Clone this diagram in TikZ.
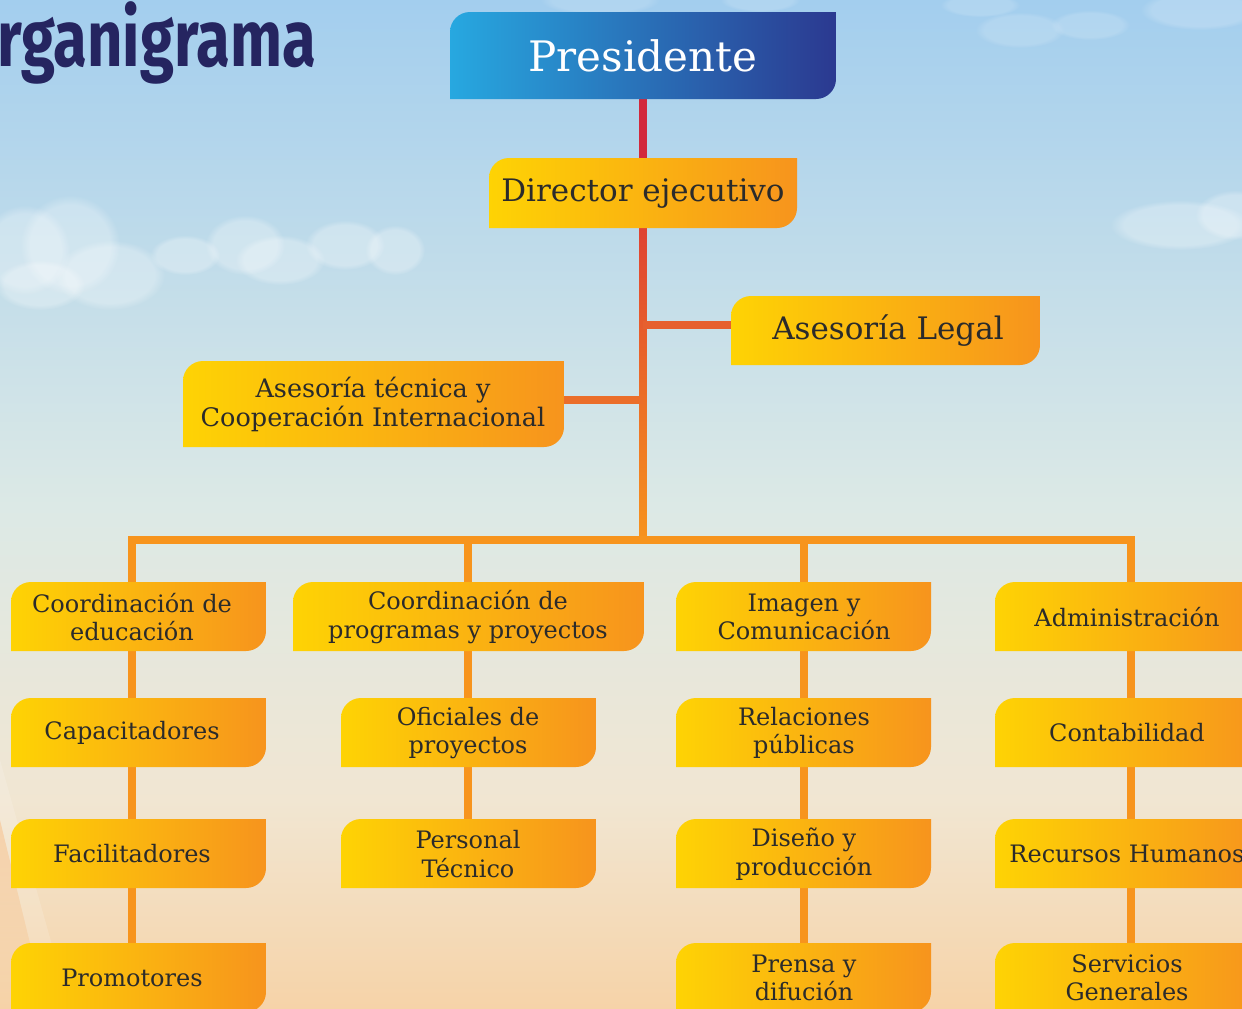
\documentclass[tikz,border=0pt]{standalone}
\usepackage{fontspec}
\setmainfont{DejaVu Serif}
\newfontfamily\titlefont{Fira Sans}[FakeStretch=0.77]
\usetikzlibrary{calc,fadings}
\definecolor{yel}{HTML}{FED304}
\definecolor{org}{HTML}{F7941D}
\definecolor{bla}{HTML}{27A8E0}
\definecolor{blb}{HTML}{2B3990}
\definecolor{navy}{HTML}{252560}
\definecolor{txt}{HTML}{2B2B2B}
\definecolor{redline}{HTML}{D2283C}
\definecolor{trunktop}{HTML}{DC3A35}
\definecolor{legalc}{HTML}{E6602F}
\definecolor{tecc}{HTML}{EB6E2A}
\definecolor{skya}{HTML}{A3CEEE}
\definecolor{skyb}{HTML}{DCE9E6}
\definecolor{skyc}{HTML}{F1E6D2}
\definecolor{skyd}{HTML}{F6D3A8}
\definecolor{beam}{HTML}{FAC08A}
\pgfdeclarelayer{sky}
\pgfdeclarelayer{lines}
\pgfdeclarelayer{boxes}
\pgfsetlayers{sky,lines,boxes,main}
\tikzset{
  boxtext/.style={text=txt, align=center, inner sep=0pt, font=\fontsize{24}{28.5}\selectfont},
  conn/.style={line width=7.5pt, line join=miter},
  cloudpart/.style={fill=white, opacity=0.28, path fading=circle with fuzzy edge 20 percent},
}
\def\bl{yel}\def\br{org}
% #1 node style, #2 name, #3 x1, #4 y1, #5 x2, #6 y2, #7 text x, #8 text
\newcommand\obox[8][]{%
  \begin{pgfonlayer}{boxes}
    \begin{scope}
      \clip[rounded corners=20pt] (#3,#4) rectangle (#5,#6)
        [sharp corners] (#5-20,#4) rectangle (#5,#4+20)
        (#3,#6-20) rectangle (#3+20,#6);
      \shade[left color=\bl, right color=\br] (#3,#4) rectangle (#5,#6);
    \end{scope}
  \end{pgfonlayer}
  \node[boxtext,#1] (#2) at (#7,{(#4+#6)/2+0.5}) {#8};
}
\newcommand\cloudat[5][]{% x y rx ry
  \fill[cloudpart,#1] (#2,#3) ellipse[x radius=#4, y radius=#5];
}
\begin{document}
\begin{tikzpicture}[x=1pt,y=-1pt]
\useasboundingbox (0,0) rectangle (1242,1009);
\begin{pgfonlayer}{sky}
  \shade[top color=skya, bottom color=skyb] (0,0) rectangle (1242,506);
  \shade[top color=skyb, bottom color=skyc] (0,505) rectangle (1242,801);
  \shade[top color=skyc, bottom color=skyd] (0,800) rectangle (1242,1009);
  % clouds
  \cloudat{25}{250}{45}{45}\cloudat{70}{245}{50}{50}\cloudat{110}{275}{55}{35}\cloudat{40}{285}{45}{25}
  \cloudat{185}{255}{35}{20}\cloudat{245}{245}{40}{30}\cloudat{280}{260}{45}{25}\cloudat{345}{245}{40}{25}\cloudat{395}{250}{30}{25}
  \cloudat{1180}{225}{70}{25}\cloudat{1235}{215}{40}{25}
  \cloudat[opacity=0.15]{1020}{30}{45}{18}\cloudat[opacity=0.15]{1090}{25}{40}{15}\cloudat[opacity=0.18]{1200}{10}{60}{20}
  \cloudat[opacity=0.15]{600}{0}{60}{15}\cloudat[opacity=0.15]{760}{0}{40}{12}\cloudat[opacity=0.15]{980}{5}{40}{12}
  \fill[beam, opacity=0.5, path fading=south] (0,820) -- (30,943) -- (40,1009) -- (0,1009) -- cycle;
  \fill[white, opacity=0.15] (0,820) -- (30,943) -- (40,1009) -- (70,1009) -- (0,760) -- cycle;
\end{pgfonlayer}

\node[anchor=base west, inner sep=0pt, text=navy, font=\titlefont\bfseries\fontsize{80}{80}\selectfont] (title) at (-3,66) {rganigrama};

% boxes
{\def\bl{bla}\def\br{blb}
\obox[text=white, font=\fontsize{42}{48}\selectfont]{pres}{450}{12}{836}{99}{643}{Presidente}}
\obox[font=\fontsize{31}{36}\selectfont]{dir}{489}{158}{797}{228}{643}{Director ejecutivo}
\obox[font=\fontsize{31}{36}\selectfont]{legal}{731}{296}{1040}{365}{888}{Asesoría Legal}
\obox[font=\fontsize{25.5}{28.5}\selectfont]{tec}{183}{361}{564}{447}{373}{Asesoría técnica y\\Cooperación Internacional}

\obox{c1a}{11}{582}{266}{651}{132}{Coordinación de\\educación}
\obox{c1b}{11}{698}{266}{767}{132}{Capacitadores}
\obox{c1c}{11}{819}{266}{888}{132}{Facilitadores}
\obox{c1d}{11}{943}{266}{1012}{132}{Promotores}

\obox{c2a}{293}{582}{644}{651}{468}{Coordinación de\\programas y proyectos}
\obox{c2b}{341}{698}{596}{767}{468}{Oficiales de\\proyectos}
\obox{c2c}{341}{819}{596}{888}{468}{Personal\\Técnico}

\obox{c3a}{676}{582}{931}{651}{804}{Imagen y\\Comunicación}
\obox{c3b}{676}{698}{931}{767}{804}{Relaciones\\públicas}
\obox{c3c}{676}{819}{931}{888}{804}{Diseño y\\producción}
\obox{c3d}{676}{943}{931}{1012}{804}{Prensa y\\difución}

\obox{c4a}{995}{582}{1262}{651}{1127}{Administración}
\obox{c4b}{995}{698}{1262}{767}{1127}{Contabilidad}
\obox{c4c}{995}{819}{1262}{888}{1127}{Recursos Humanos}
\obox{c4d}{995}{943}{1262}{1012}{1127}{Servicios\\Generales}

% connectors
\coordinate (bus0) at (643,540);
\coordinate (jL) at (643,325);
\coordinate (jT) at (643,400);
\coordinate (b1) at (132,540);
\coordinate (b2) at (468,540);
\coordinate (b3) at (804,540);
\coordinate (b4) at (1131,540);
\begin{pgfonlayer}{lines}
  \draw[conn, redline] (pres) -- (dir);
  \shade[top color=trunktop, bottom color=org] ($(dir)+(-3.75,0)$) rectangle ($(bus0)+(3.75,3.75)$);
  \draw[conn, legalc] (jL) -- (jL -| legal);
  \draw[conn, tecc] (jT) -- (jT -| tec);
  \draw[conn, org] (b1 |- c1d) -- (b1) -- (b4) -- (b4 |- c4d);
  \draw[conn, org] (b2) -- (b2 |- c2c);
  \draw[conn, org] (b3) -- (b3 |- c3d);
\end{pgfonlayer}
\end{tikzpicture}
\end{document}
